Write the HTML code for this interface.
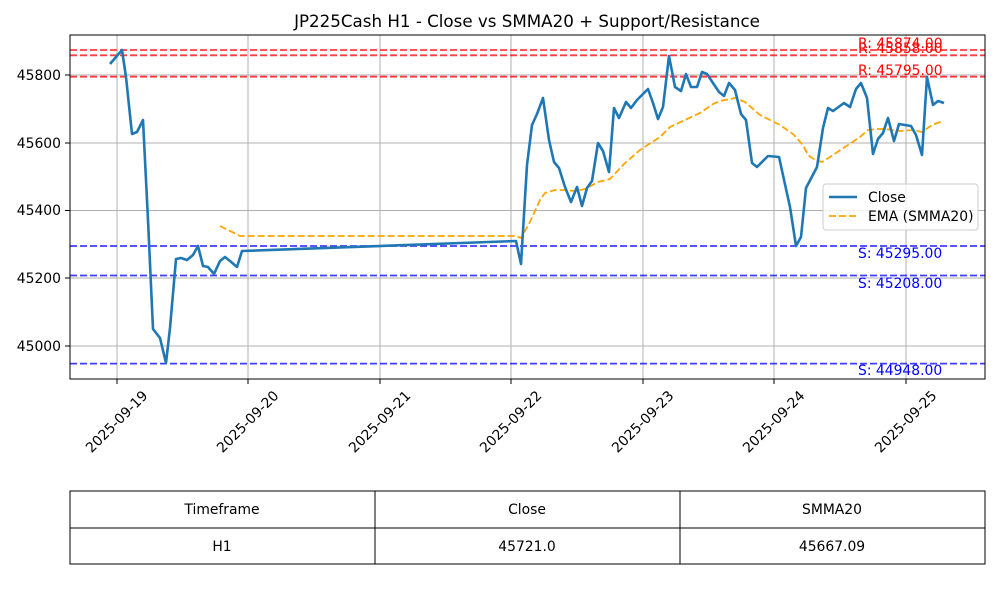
<!DOCTYPE html>
<html><head><meta charset="utf-8"><style>
body{margin:0;background:#fff;font-family:"Liberation Sans","DejaVu Sans",sans-serif}
</style></head><body>
<svg width="1000" height="600" xmlns="http://www.w3.org/2000/svg" font-family="DejaVu Sans, Liberation Sans, sans-serif">
<rect width="1000" height="600" fill="#fff"/>
<text x="527" y="27" font-size="16.7" text-anchor="middle">JP225Cash H1 - Close vs SMMA20 + Support/Resistance</text>
<g stroke="#b0b0b0" stroke-width="1">
<line x1="117" y1="35" x2="117" y2="379"/><line x1="248" y1="35" x2="248" y2="379"/><line x1="380" y1="35" x2="380" y2="379"/><line x1="511" y1="35" x2="511" y2="379"/><line x1="643" y1="35" x2="643" y2="379"/><line x1="774" y1="35" x2="774" y2="379"/><line x1="906" y1="35" x2="906" y2="379"/>
<line x1="70" y1="346" x2="985" y2="346"/><line x1="70" y1="278" x2="985" y2="278"/><line x1="70" y1="210.5" x2="985" y2="210.5"/><line x1="70" y1="143" x2="985" y2="143"/><line x1="70" y1="75" x2="985" y2="75"/>
</g>
<g stroke-width="1.8" stroke-dasharray="7,3" opacity="0.75">
<line x1="70" y1="50" x2="985" y2="50" stroke="red"/><line x1="70" y1="55.3" x2="985" y2="55.3" stroke="red"/><line x1="70" y1="76.7" x2="985" y2="76.7" stroke="red"/>
<line x1="70" y1="246" x2="985" y2="246" stroke="blue"/><line x1="70" y1="275.5" x2="985" y2="275.5" stroke="blue"/><line x1="70" y1="363.6" x2="985" y2="363.6" stroke="blue"/>
</g>
<polyline fill="none" stroke="orange" stroke-width="1.8" stroke-dasharray="7,3" points="220,226 240,236 516,236 521,238 530,222 540,200 545,193 555,190 565,190 575,191 585,189 598,182 610,179 625,163 640,150 660,137 670,127 685,120 700,113 713,104 720,101 735,98 745,102 760,115 770,120 780,125 793,134 803,145 808,155 815,160 822,162 830,157 845,147 860,137 868,130 877,129 885,129 900,131 913,130 922,132 932,125 943,121"/>
<polyline fill="none" stroke="#1f77b4" stroke-width="2.6" stroke-linejoin="round" points="110,64 122,50 126,77 132,134 137,132 143,120 148,220 153,329 160,338 166,363 170,328 176,259 181,258 187,260 193,255 198,246 203,266 208,267 214,274 220,261 225,257 230,261 237,267 242,251 516,241 521,264 527,165 532,125 537,114 543,98 549,140 554,162 559,168 565,187 571,202 577,187 582,206 587,188 592,181 598,143 603,151 609,172 614,108 619,118 626,102 631,108 637,100 642,95 648,89 653,103 658,119 663,107 669,56 675,87 681,91 686,74 691,87 697,87 702,72 707,74 713,83 719,92 724,96 729,83 735,90 741,114 746,120 752,163 757,167 768,156 779,157 790,207 796,246 801,237 806,188 817,167 823,128 828,108 833,111 844,103 850,107 856,89 861,83 867,98 873,154 878,139 883,133 888,118 894,141 899,124 911,126 916,135 922,155 927,77 933,105 938,101 944,103"/>
<g font-size="13.9">
<text x="858" y="48" fill="red">R: 45874.00</text><text x="858" y="53" fill="red">R: 45858.00</text><text x="858" y="75" fill="red">R: 45795.00</text>
<text x="858" y="258" fill="blue">S: 45295.00</text><text x="858" y="288" fill="blue">S: 45208.00</text><text x="858" y="375" fill="blue">S: 44948.00</text>
</g>
<rect x="70" y="35" width="915" height="344" fill="none" stroke="#000" stroke-width="1"/>
<g stroke="#000"><line x1="65" y1="346" x2="70" y2="346"/><line x1="65" y1="278" x2="70" y2="278"/><line x1="65" y1="210.5" x2="70" y2="210.5"/><line x1="65" y1="143" x2="70" y2="143"/><line x1="65" y1="75" x2="70" y2="75"/>
<line x1="117" y1="379" x2="117" y2="384"/><line x1="248" y1="379" x2="248" y2="384"/><line x1="380" y1="379" x2="380" y2="384"/><line x1="511" y1="379" x2="511" y2="384"/><line x1="643" y1="379" x2="643" y2="384"/><line x1="774" y1="379" x2="774" y2="384"/><line x1="906" y1="379" x2="906" y2="384"/></g>
<g font-size="13.9" text-anchor="end">
<text x="61" y="351">45000</text><text x="61" y="283">45200</text><text x="61" y="215">45400</text><text x="61" y="148">45600</text><text x="61" y="80">45800</text>
</g>
<g font-size="13.9" text-anchor="middle">
<text transform="translate(120,425) rotate(-45)">2025-09-19</text><text transform="translate(251,425) rotate(-45)">2025-09-20</text><text transform="translate(383,425) rotate(-45)">2025-09-21</text><text transform="translate(514,425) rotate(-45)">2025-09-22</text><text transform="translate(646,425) rotate(-45)">2025-09-23</text><text transform="translate(777,425) rotate(-45)">2025-09-24</text><text transform="translate(909,425) rotate(-45)">2025-09-25</text>
</g>
<rect x="823" y="184" width="155" height="46" rx="3" fill="#fff" fill-opacity="0.8" stroke="#ccc"/>
<line x1="829" y1="197" x2="857" y2="197" stroke="#1f77b4" stroke-width="2.6"/>
<line x1="829" y1="216" x2="857" y2="216" stroke="orange" stroke-width="1.8" stroke-dasharray="7,3"/>
<text x="868" y="202" font-size="13.9">Close</text><text x="868" y="221" font-size="13.9">EMA (SMMA20)</text>
<g stroke="#000" fill="none"><rect x="70" y="491" width="915" height="73"/><line x1="70" y1="528" x2="985" y2="528"/><line x1="375" y1="491" x2="375" y2="564"/><line x1="680" y1="491" x2="680" y2="564"/></g>
<g font-size="13.9" text-anchor="middle"><text x="222" y="514">Timeframe</text><text x="527" y="514">Close</text><text x="832" y="514">SMMA20</text>
<text x="222" y="551">H1</text><text x="527" y="551">45721.0</text><text x="832" y="551">45667.09</text></g>
</svg>
</body></html>
